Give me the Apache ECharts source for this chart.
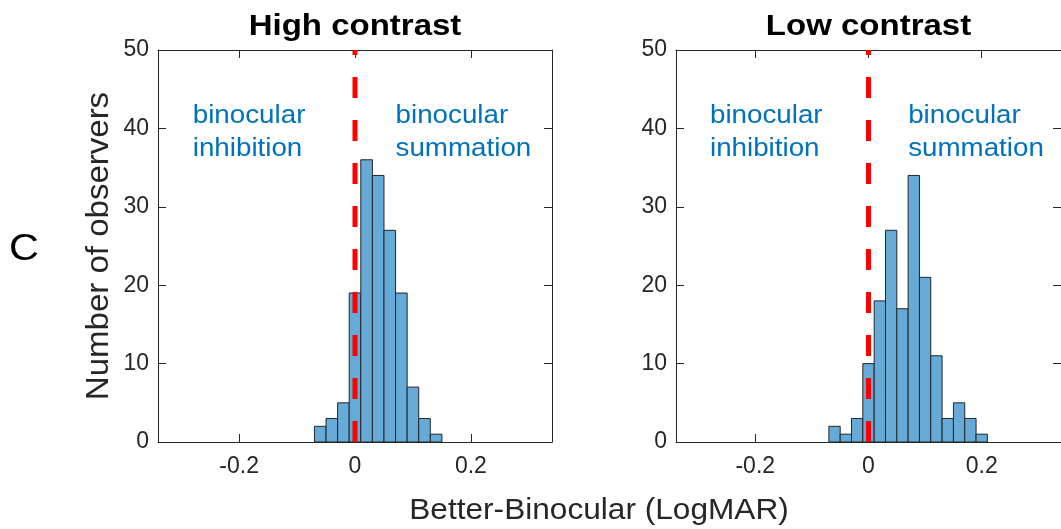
<!DOCTYPE html>
<html>
<head>
<meta charset="utf-8">
<script src="https://cdn.jsdelivr.net/npm/echarts@6/dist/echarts.min.js"></script>
<style>
  html, body { margin: 0; padding: 0; background: #ffffff; }
  #chart { width: 1061px; height: 529px; }
</style>
</head>
<body>
<div id="chart"></div>
<script>
// Histogram bins (LogMAR difference, better eye minus binocular), width 0.02
const binWidth = 0.02;
const highCenters = [-0.06, -0.04, -0.02, 0.00, 0.02, 0.04, 0.06, 0.08, 0.10, 0.12, 0.14];
const highCounts  = [2, 3, 5, 19, 36, 34, 27, 19, 7, 3, 1];
const lowCenters  = [-0.06, -0.04, -0.02, 0.00, 0.02, 0.04, 0.06, 0.08, 0.10, 0.12, 0.14, 0.16, 0.18, 0.20];
const lowCounts   = [2, 1, 3, 10, 18, 27, 17, 34, 21, 11, 3, 5, 3, 1];

const panelTitles = ['High contrast', 'Low contrast'];
const xTickValues = [-0.2, 0, 0.2];
const xRange = [-0.34, 0.34];
const yRange = [0, 50];
const yStep = 10;
const splitLineX = 0;

const FONT = '"Liberation Sans", Arial, Helvetica, sans-serif';
const AXIS_COLOR = '#262626';
const BAR_FILL = '#66AAD7';
const NOTE_COLOR = '#0072BD';

const chart = echarts.init(document.getElementById('chart'), null, { renderer: 'canvas' });

const grids = [
  { left: 158, top: 50, width: 394, height: 392 },
  { left: 676, top: 50, width: 393, height: 392 }
];

function bottomX(gridIndex) {
  return {
    type: 'value', gridIndex, position: 'bottom',
    min: xRange[0], max: xRange[1],
    axisLine: { show: true, onZero: false, lineStyle: { color: AXIS_COLOR, width: 1 } },
    axisTick: { show: true, inside: true, length: 8, customValues: xTickValues, lineStyle: { color: AXIS_COLOR } },
    axisLabel: { show: true, customValues: xTickValues, margin: 13, fontSize: 23, fontFamily: FONT, color: AXIS_COLOR },
    splitLine: { show: false }
  };
}
function topX(gridIndex) {
  return {
    type: 'value', gridIndex, position: 'top',
    min: xRange[0], max: xRange[1],
    axisLine: { show: true, onZero: false, lineStyle: { color: AXIS_COLOR, width: 1 } },
    axisTick: { show: true, inside: true, length: 8, customValues: xTickValues, lineStyle: { color: AXIS_COLOR } },
    axisLabel: { show: false },
    splitLine: { show: false }
  };
}
function leftY(gridIndex) {
  return {
    type: 'value', gridIndex, position: 'left',
    min: yRange[0], max: yRange[1], interval: yStep,
    axisLine: { show: true, onZero: false, lineStyle: { color: AXIS_COLOR, width: 1 } },
    axisTick: { show: true, inside: true, length: 8, lineStyle: { color: AXIS_COLOR } },
    axisLabel: { show: true, margin: 9, fontSize: 23, fontFamily: FONT, color: AXIS_COLOR },
    splitLine: { show: false }
  };
}
function rightY(gridIndex) {
  return {
    type: 'value', gridIndex, position: 'right',
    min: yRange[0], max: yRange[1], interval: yStep,
    axisLine: { show: true, onZero: false, lineStyle: { color: AXIS_COLOR, width: 1 } },
    axisTick: { show: true, inside: true, length: 8, lineStyle: { color: AXIS_COLOR } },
    axisLabel: { show: false },
    splitLine: { show: false }
  };
}

// One rectangle per bin, from the bin edges down to zero
function renderBin(params, api) {
  const c = api.value(0);
  const n = api.value(1);
  const p0 = api.coord([c - binWidth / 2, 0]);
  const p1 = api.coord([c + binWidth / 2, n]);
  return {
    type: 'rect',
    shape: { x: p0[0], y: p1[1], width: p1[0] - p0[0], height: p0[1] - p1[1] },
    style: { fill: BAR_FILL, stroke: AXIS_COLOR, lineWidth: 1 }
  };
}

function histSeries(centers, counts, xIdx, yIdx) {
  return {
    type: 'custom', xAxisIndex: xIdx, yAxisIndex: yIdx,
    renderItem: renderBin,
    encode: { x: 0, y: 1 },
    data: centers.map((c, i) => [c, counts[i]]),
    z: 2, silent: true
  };
}

function zeroLine(xIdx, yIdx) {
  return {
    type: 'line', xAxisIndex: xIdx, yAxisIndex: yIdx,
    data: [[splitLineX, yRange[0]], [splitLineX, yRange[1]]],
    showSymbol: false, symbol: 'none', silent: true,
    lineStyle: { color: '#ff0000', width: 5, type: [21, 22] },
    z: 5, animation: false
  };
}

chart.setOption({
  backgroundColor: '#ffffff',
  animation: false,
  grid: grids,
  xAxis: [bottomX(0), topX(0), bottomX(1), topX(1)],
  yAxis: [leftY(0), rightY(0), leftY(1), rightY(1)],
  series: [
    histSeries(highCenters, highCounts, 0, 0),
    zeroLine(0, 0),
    histSeries(lowCenters, lowCounts, 2, 2),
    zeroLine(2, 2)
  ]
});

// Titles, region notes and shared axis names
const xPix = (axisIdx, v) => chart.convertToPixel({ xAxisIndex: axisIdx }, v);

function label(text, x, y, size, opts) {
  opts = opts || {};
  return {
    type: 'text', x, y,
    rotation: opts.rotation || 0,
    scaleX: opts.scaleX || 1,
    style: {
      text, fontSize: size, fontFamily: FONT,
      fontWeight: opts.bold ? 'bold' : 'normal',
      fill: opts.color || AXIS_COLOR,
      align: opts.align || 'center', verticalAlign: 'middle'
    },
    z: 10, silent: true
  };
}

const graphics = [];
[0, 2].forEach((axisIdx, p) => {
  graphics.push(label(panelTitles[p], xPix(axisIdx, 0), 27, 30, { bold: true, scaleX: 1.1, color: '#000000' }));
  const leftNoteX = xPix(axisIdx, -0.28);
  const rightNoteX = xPix(axisIdx, 0.07);
  graphics.push(label('binocular', leftNoteX, 116, 25, { align: 'left', scaleX: 1.11, color: NOTE_COLOR }));
  graphics.push(label('inhibition', leftNoteX, 149, 25, { align: 'left', scaleX: 1.11, color: NOTE_COLOR }));
  graphics.push(label('binocular', rightNoteX, 116, 25, { align: 'left', scaleX: 1.11, color: NOTE_COLOR }));
  graphics.push(label('summation', rightNoteX, 149, 25, { align: 'left', scaleX: 1.11, color: NOTE_COLOR }));
});
graphics.push(label('Better-Binocular (LogMAR)', 599, 511, 29, { scaleX: 1.09 }));
graphics.push(label('Number of observers', 99, 246, 31, { rotation: Math.PI / 2, scaleX: 1.065 }));
graphics.push(label('C', 24, 250, 36, { scaleX: 1.15, color: '#000000' }));

chart.setOption({ graphic: graphics });
</script>
</body>
</html>
